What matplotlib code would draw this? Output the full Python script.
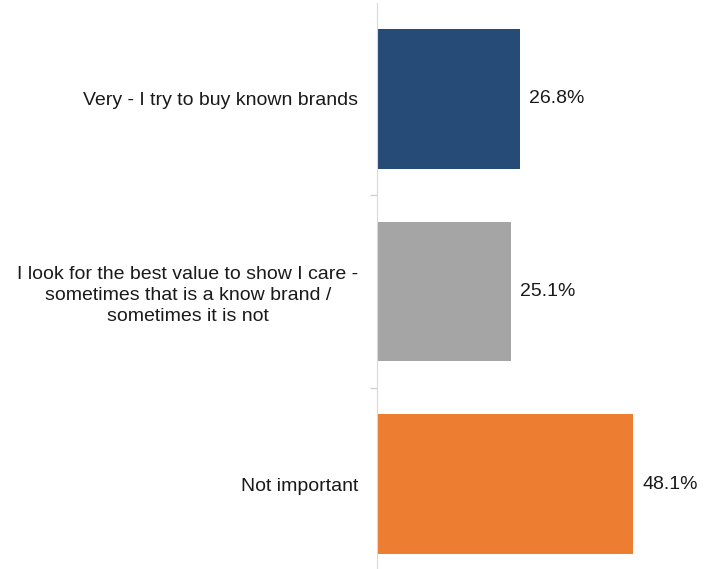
import matplotlib
matplotlib.use('Agg')
import matplotlib.pyplot as plt

# data
categories = ['Very - I try to buy known brands',
              'I look for the best value to show I care -\nsometimes that is a know brand /\nsometimes it is not',
              'Not important']
values = [26.8, 25.1, 48.1]
colors = ['#264b77', '#a5a5a5', '#ed7d31']

plt.rcParams['font.family'] = ['Liberation Sans', 'DejaVu Sans']

fig = plt.figure(figsize=(7.06, 5.69), dpi=100)
ax = fig.add_axes([377 / 706, -11.5 / 569, 1 - 377 / 706, 578 / 569])

pos = list(range(len(categories)))
ax.barh(pos, values, height=0.725, color=colors)
ax.set_ylim(2.5, -0.5)
ax.set_xlim(0, 61.7)

for p, v in zip(pos, values):
    ax.text(v + 1.7, p, '%.1f%%' % v, va='center', ha='left', fontsize=14, color='#1a1a1a')

# category labels, ticks sit between categories
ax.set_yticks([0.5, 1.5])
ax.set_yticklabels([])
ax.set_yticks(pos, minor=True)
ax.set_yticklabels(categories, minor=True, fontsize=14, color='#1a1a1a',
                   multialignment='center', linespacing=1.3)
ax.tick_params(axis='y', which='minor', length=0, pad=13.5)
ax.tick_params(axis='y', which='major', length=5, color='#d0d0d0', width=1)
ax.set_xticks([])

for s in ['top', 'right', 'bottom']:
    ax.spines[s].set_visible(False)
ax.spines['left'].set_color('#d9d9d9')

fig.savefig('out.png', dpi=100)
